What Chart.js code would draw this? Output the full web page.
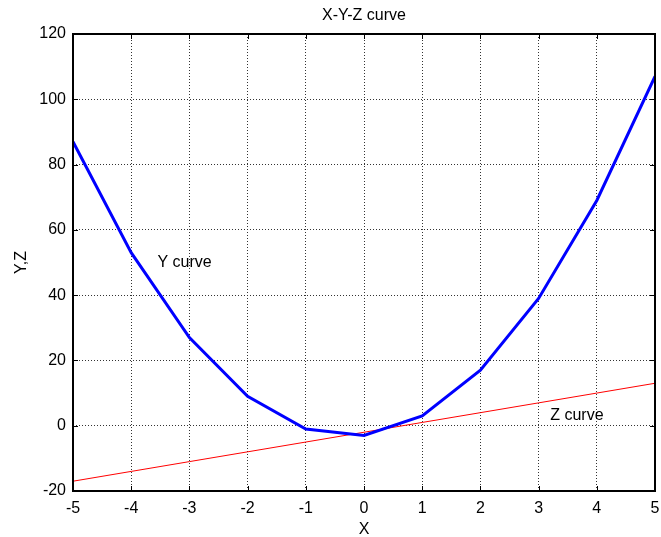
<!DOCTYPE html>
<html><head><meta charset="utf-8">
<script src="https://cdn.jsdelivr.net/npm/chart.js@4/dist/chart.umd.min.js"></script>
<style>html,body{margin:0;padding:0;background:#fff}#wrap{width:661px;height:537px}</style>
</head><body><div id="wrap"><canvas id="c" width="661" height="537"></canvas></div>
<script>
const xValues = [-5,-4,-3,-2,-1,0,1,2,3,4,5];
const yValues = [87,53,27,9,-1,-3,3,17,39,69,107];
const zValues = [-17,-14,-11,-8,-5,-2,1,4,7,10,13];
const xTicks = [-5,-4,-3,-2,-1,0,1,2,3,4,5];
const yTicks = [-20,0,20,40,60,80,100,120];
const titleText = 'X-Y-Z curve';
const xLabel = 'X';
const yLabel = 'Y,Z';
const annotations = [{text:'Y curve', x:-3.55, y:50}, {text:'Z curve', x:3.2, y:3}];

const FONT = '"Liberation Sans", Arial, sans-serif';
const deco = {
  id:'deco',
  afterDraw(chart){
    const {ctx, chartArea:a, scales:{x, y}} = chart;
    ctx.save();
    ctx.strokeStyle = '#000'; ctx.lineWidth = 1;
    ctx.beginPath();
    const L = 5;
    xTicks.forEach(v=>{const px=Math.round(x.getPixelForValue(v))+0.5;
      ctx.moveTo(px,a.bottom); ctx.lineTo(px,a.bottom-L);
      ctx.moveTo(px,a.top); ctx.lineTo(px,a.top+L);});
    yTicks.forEach(v=>{const py=Math.round(y.getPixelForValue(v))+0.5;
      ctx.moveTo(a.left,py); ctx.lineTo(a.left+L,py);
      ctx.moveTo(a.right,py); ctx.lineTo(a.right-L,py);});
    ctx.stroke();
    ctx.lineWidth = 2;
    ctx.strokeRect(a.left, a.top, a.right-a.left, a.bottom-a.top);
    ctx.fillStyle = '#000';
    ctx.font = '16px '+FONT; ctx.textAlign='center'; ctx.textBaseline='alphabetic';
    ctx.fillText(titleText, (a.left+a.right)/2, 20);
    ctx.font = '16px '+FONT;
    ctx.fillText(xLabel, (a.left+a.right)/2, 534);
    ctx.save(); ctx.translate(26, (a.top+a.bottom)/2); ctx.rotate(-Math.PI/2);
    ctx.fillText(yLabel, 0, 0); ctx.restore();
    ctx.textAlign='left'; ctx.textBaseline='middle';
    annotations.forEach(t=>ctx.fillText(t.text, x.getPixelForValue(t.x), y.getPixelForValue(t.y)));
    ctx.restore();
  }
};

new Chart(document.getElementById('c'), {
  type:'line',
  data:{datasets:[
    {data:xValues.map((v,i)=>({x:v,y:yValues[i]})), borderColor:'#0000ff', borderWidth:3, pointRadius:0, fill:false, tension:0},
    {data:xValues.map((v,i)=>({x:v,y:zValues[i]})), borderColor:'#ff0000', borderWidth:1, pointRadius:0, fill:false, tension:0}
  ]},
  options:{
    responsive:false, animation:false, devicePixelRatio:1,
    layout:{padding:{top:34, right:6, left:0, bottom:0}},
    plugins:{legend:{display:false}, tooltip:{enabled:false}, title:{display:false}},
    scales:{
      x:{type:'linear', min:-5, max:5,
        afterFit(s){s.height=46; s.paddingLeft=0; s.paddingRight=0;},
        afterBuildTicks(s){s.ticks=xTicks.map(v=>({value:v}));},
        ticks:{color:'#000', font:{family:FONT,size:16}, padding:8, maxRotation:0, autoSkip:false},
        grid:{color:'#333', drawTicks:false, lineWidth:1},
        border:{display:false, dash:[1,2]}},
      y:{type:'linear', min:-20, max:120,
        afterFit(s){s.width=73; s.paddingTop=0; s.paddingBottom=0;},
        afterBuildTicks(s){s.ticks=yTicks.map(v=>({value:v}));},
        ticks:{color:'#000', font:{family:FONT,size:16}, padding:7, autoSkip:false},
        grid:{color:'#333', drawTicks:false, lineWidth:1},
        border:{display:false, dash:[1,2]}}
    }
  },
  plugins:[deco]
});
</script></body></html>
